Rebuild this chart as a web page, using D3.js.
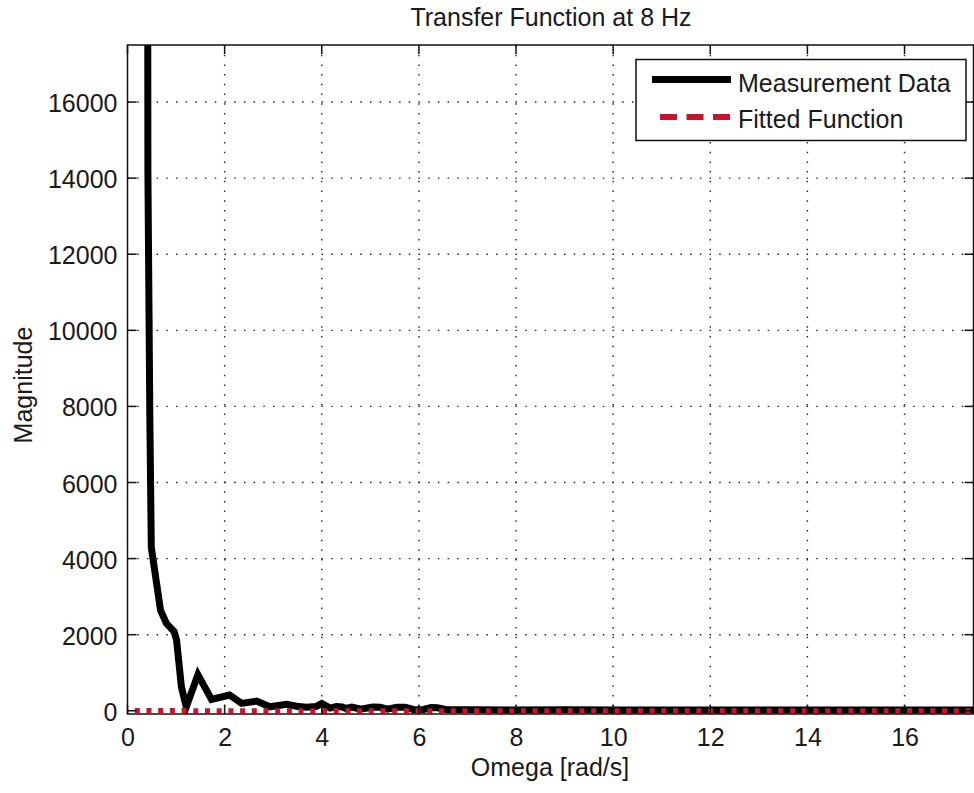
<!DOCTYPE html>
<html>
<head>
<meta charset="utf-8">
<script src="https://cdn.jsdelivr.net/npm/d3@7"></script>
<style>
  html, body { margin: 0; padding: 0; background: #fff; }
  svg { display: block; }
  text { font-family: "Liberation Sans", Arial, sans-serif; fill: #1a1a1a; }
</style>
</head>
<body>
<svg id="chart" width="974" height="793"></svg>
<script>
// ---- data ----
const titleText = "Transfer Function at 8 Hz";
const xLabelText = "Omega [rad/s]";
const yLabelText = "Magnitude";
const seriesNames = ["Measurement Data", "Fitted Function"];

const xTicks = [0, 2, 4, 6, 8, 10, 12, 14, 16];
const yTicks = [0, 2000, 4000, 6000, 8000, 10000, 12000, 14000, 16000];

const measOmega = [0.40, 0.42, 0.46, 0.49, 0.68, 0.80, 0.96, 1.01, 1.11, 1.21, 1.45, 1.73, 2.10, 2.35, 2.66, 2.93, 3.28, 3.48, 3.68, 3.88, 4.00, 4.17,
  4.30, 4.42, 4.50, 4.62, 4.80, 5.05, 5.20, 5.35, 5.55, 5.72, 5.90, 6.10, 6.25, 6.38, 6.60, 7.2, 8.0, 9.0, 10.0, 11.0, 12.0, 13.0, 14.0, 15.0, 16.0, 17.0, 17.42];
const measMag = [40000, 14200, 7700, 4300, 2640, 2300, 2080, 1860, 630, 100, 950, 300, 415, 195, 255, 105, 170, 120, 90, 110, 190, 70,
  110, 100, 60, 95, 40, 100, 90, 40, 95, 90, 30, 35, 85, 80, 25, 30, 20, 25, 20, 22, 18, 20, 18, 20, 18, 18, 18];

const fitOmega = [0.15, 0.5, 1, 2, 4, 8, 12, 17.42];
const fitMag = [6, 5, 4, 3, 2, 1, 1, 1];

// ---- layout ----
const svg = d3.select("#chart");
const L = 127.5, R = 973.5, T = 45, B = 714;
const x = d3.scaleLinear().domain([0, 17.42]).range([L, R]);
const y = d3.scaleLinear().domain([-85, 17500]).range([B, T]);
const FS = 25;

svg.append("rect").attr("width", 974).attr("height", 793).attr("fill", "#fff");

svg.append("defs").append("clipPath").attr("id", "plotclip")
  .append("rect").attr("x", L).attr("y", T).attr("width", R - L).attr("height", B - T);

// grid
const grid = svg.append("g");
grid.selectAll("line.gx").data(xTicks.filter(d => d > 0)).join("line")
  .attr("x1", d => x(d)).attr("x2", d => x(d)).attr("y1", T).attr("y2", B)
  .attr("stroke", "#222").attr("stroke-width", 1.4).attr("stroke-dasharray", "1.5,8.2");
grid.selectAll("line.gy").data(yTicks.filter(d => d > 0)).join("line")
  .attr("y1", d => y(d)).attr("y2", d => y(d)).attr("x1", L).attr("x2", R)
  .attr("stroke", "#222").attr("stroke-width", 1.4).attr("stroke-dasharray", "1.5,8.2");

// lines
const plot = svg.append("g").attr("clip-path", "url(#plotclip)");
const measData = measOmega.map((o, i) => [o, measMag[i]]);
const fitData = fitOmega.map((o, i) => [o, fitMag[i]]);
const line = d3.line().x(d => x(d[0])).y(d => y(d[1]));

plot.append("path").datum(measData).attr("d", line)
  .attr("fill", "none").attr("stroke", "#000").attr("stroke-width", 7)
  .attr("stroke-linejoin", "miter").attr("stroke-linecap", "butt");
plot.append("path").datum(fitData).attr("d", line)
  .attr("fill", "none").attr("stroke", "#c8142c").attr("stroke-width", 5)
  .attr("stroke-dasharray", "5,6.7");

// axes box
svg.append("rect").attr("x", L).attr("y", T).attr("width", R - L).attr("height", B - T)
  .attr("fill", "none").attr("stroke", "#111").attr("stroke-width", 1.5);

// ticks
const axX = d3.axisBottom(x).tickValues(xTicks).tickSize(0).tickPadding(0).tickFormat(d3.format("d"));
const gx = svg.append("g").attr("transform", `translate(0,${B})`).call(axX);
gx.select(".domain").remove();
gx.selectAll("text").attr("font-size", FS).attr("font-family", "Liberation Sans, Arial, sans-serif")
  .attr("fill", "#1a1a1a").attr("y", 32).attr("dy", 0);

const axY = d3.axisLeft(y).tickValues(yTicks).tickSize(0).tickPadding(0).tickFormat(d3.format("d"));
const gy = svg.append("g").attr("transform", `translate(${L},0)`).call(axY);
gy.select(".domain").remove();
gy.selectAll("text").attr("font-size", FS).attr("font-family", "Liberation Sans, Arial, sans-serif")
  .attr("fill", "#1a1a1a").attr("x", -10).attr("dy", 0).attr("y", 9.5);

const tk = svg.append("g").attr("stroke", "#111").attr("stroke-width", 1.5);
xTicks.forEach(t => {
  tk.append("line").attr("x1", x(t)).attr("x2", x(t)).attr("y1", B).attr("y2", B - 9);
  tk.append("line").attr("x1", x(t)).attr("x2", x(t)).attr("y1", T).attr("y2", T + 9);
});
yTicks.forEach(t => {
  tk.append("line").attr("y1", y(t)).attr("y2", y(t)).attr("x1", L).attr("x2", L + 9);
  tk.append("line").attr("y1", y(t)).attr("y2", y(t)).attr("x1", R).attr("x2", R - 9);
});

// labels
svg.append("text").attr("x", 551).attr("y", 26).attr("text-anchor", "middle")
  .attr("font-size", FS).text(titleText);
svg.append("text").attr("x", 550).attr("y", 776).attr("text-anchor", "middle")
  .attr("font-size", FS).text(xLabelText);
svg.append("text").attr("transform", "translate(31.5,385) rotate(-90)").attr("text-anchor", "middle")
  .attr("font-size", FS).text(yLabelText);

// legend
const lg = svg.append("g");
lg.append("rect").attr("x", 636).attr("y", 59.5).attr("width", 330).attr("height", 81)
  .attr("fill", "#fff").attr("stroke", "#111").attr("stroke-width", 1.5);
lg.append("line").attr("x1", 652).attr("x2", 731).attr("y1", 79.5).attr("y2", 79.5)
  .attr("stroke", "#000").attr("stroke-width", 7);
lg.append("line").attr("x1", 660).attr("x2", 731).attr("y1", 117).attr("y2", 117)
  .attr("stroke", "#c8142c").attr("stroke-width", 6).attr("stroke-dasharray", "17,9.5");
lg.append("text").attr("x", 738).attr("y", 91.5).attr("font-size", FS).text(seriesNames[0]);
lg.append("text").attr("x", 738).attr("y", 128).attr("font-size", FS).text(seriesNames[1]);
</script>
</body>
</html>
